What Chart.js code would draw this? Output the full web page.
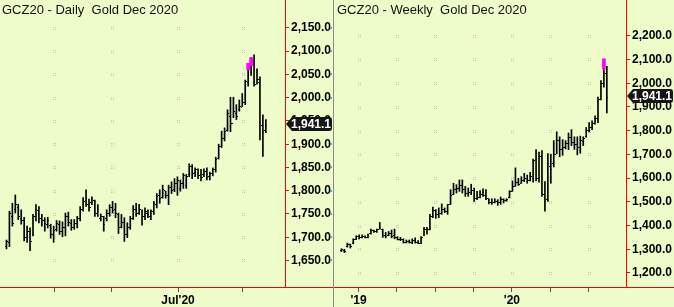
<!DOCTYPE html>
<html lang="en">
<head>
<meta charset="UTF-8" />
<title>GCZ20 Gold Dec 2020</title>
<script src="https://cdn.jsdelivr.net/npm/chart.js"></script>
<style>
  html, body { margin: 0; padding: 0; background: #edfcc8; }
  .wrap { position: relative; width: 674px; height: 307px; overflow: hidden; background: #edfcc8; }
  canvas { position: absolute; top: 0; }
  #dailyChart { left: 0; }
  #weeklyChart { left: 334px; }
  .sep { position: absolute; left: 333px; top: 0; width: 1px; height: 307px; background: #8c8c8c; }
  .title {
    position: absolute; top: 2px; z-index: 2;
    font: 13px 'Liberation Sans', Arial, sans-serif; color: #111;
    white-space: pre;
  }
</style>
</head>
<body>
<div class="wrap">
  <canvas id="dailyChart" width="333" height="307"></canvas>
  <div class="sep"></div>
  <canvas id="weeklyChart" width="340" height="307"></canvas>
  <div class="title" style="left:2px">GCZ20 - Daily  Gold Dec 2020</div>
  <div class="title" style="left:337px">GCZ20 - Weekly  Gold Dec 2020</div>
</div>

<script>
  // daily bars (Apr - Aug 2020)
  const dHigh = [1694,1756,1773,1791,1771,1759,1743,1724,1720,1749,1770,1766,1749,1742,1743,1728,1724,1736,1735,1733,
                 1752,1754,1738,1738,1745,1766,1785,1802,1782,1787,1780,1770,1750,1745,1759,1770,1777,1773,1752,1749,
                 1742,1731,1745,1768,1773,1771,1759,1763,1759,1759,1777,1794,1802,1812,1799,1812,1819,1826,1830,1823,
                 1837,1835,1858,1856,1849,1847,1846,1847,1849,1840,1849,1872,1900,1928,1935,1974,2001,2001,1985,1995,
                 2009,2038,2074,2086,2092,2062,2045,1963,1953];
  const dLow  = [1675,1680,1724,1752,1738,1728,1692,1689,1671,1703,1735,1731,1724,1713,1720,1698,1689,1713,1706,1701,
                 1703,1724,1715,1717,1720,1735,1756,1766,1756,1770,1745,1745,1735,1713,1735,1745,1752,1742,1708,1720,
                 1691,1699,1717,1738,1745,1749,1726,1738,1742,1738,1749,1763,1773,1784,1784,1770,1794,1798,1790,1799,
                 1805,1805,1830,1826,1830,1826,1821,1830,1823,1823,1832,1840,1868,1893,1907,1928,1927,1957,1953,1971,
                 1981,1985,2025,2048,2025,2029,1909,1874,1925];
  const dOpen = [1680,1688,1745,1760,1765,1740,1735,1700,1712,1705,1745,1758,1740,1736,1728,1726,1705,1716,1728,1712,
                 1722,1745,1730,1722,1730,1740,1760,1778,1770,1774,1778,1752,1740,1745,1740,1752,1765,1760,1748,1722,
                 1732,1705,1722,1740,1760,1752,1756,1745,1752,1745,1755,1770,1790,1786,1800,1790,1808,1802,1815,1805,
                 1815,1812,1834,1852,1840,1845,1835,1835,1842,1830,1838,1845,1870,1895,1912,1930,1960,1945,1965,1975,
                 1980,1990,2032,2055,2075,2030,2032,1940,1930];
  const dClose = [1690,1750,1730,1770,1745,1735,1700,1712,1690,1745,1760,1740,1736,1730,1735,1705,1715,1730,1712,1722,
                  1745,1732,1722,1730,1740,1760,1776,1770,1765,1781,1752,1760,1745,1728,1752,1765,1758,1750,1720,1732,
                  1705,1722,1740,1760,1752,1760,1745,1755,1748,1755,1772,1788,1784,1802,1790,1808,1800,1815,1822,1815,
                  1832,1830,1852,1838,1845,1832,1828,1842,1828,1836,1845,1868,1895,1912,1928,1965,1945,1970,1960,1982,
                  1990,2035,2060,2080,2028,2040,1946,1928,1941.1];
  const dFlagIdx = [82, 83];
  const dFlagLow = [2060, 2069];
  const dFlagHigh = [2074, 2086];
  const dTicksY = [1650, 1700, 1750, 1800, 1850, 1900, 1950, 2000, 2050, 2100, 2150];
  const dTicksX = [16.2, 35.8, 58.2, 80.2];
  const dTickLabels = ['', '', "Jul'20", ''];

  // weekly bars (Nov 2018 - Aug 2020)
  const wHigh = [1302,1300,1326,1322,1344,1357,1361,1361,1357,1364,1385,1381,1385,1413,1385,1371,1375,1381,1385,1353,
                 1350,1344,1339,1339,1344,1348,1336,1353,1392,1392,1447,1478,1467,1474,1491,1474,1489,1551,1578,1572,
                 1592,1592,1565,1558,1574,1558,1544,1547,1555,1551,1513,1513,1513,1509,1520,1513,1513,1547,1588,1643,
                 1599,1606,1620,1613,1624,1680,1720,1710,1716,1585,1703,1700,1758,1795,1774,1762,1758,1790,1804,1774,
                 1774,1777,1774,1813,1834,1841,1862,1941,2011,2057,2071];
  const wLow  = [1290,1286,1309,1305,1323,1341,1344,1348,1348,1348,1364,1371,1371,1385,1350,1348,1357,1348,1344,1339,
                 1336,1326,1326,1326,1323,1326,1323,1323,1357,1364,1381,1433,1430,1433,1447,1454,1447,1489,1530,1537,
                 1544,1537,1523,1523,1530,1502,1509,1516,1523,1509,1491,1489,1495,1485,1489,1495,1502,1516,1544,1565,
                 1569,1578,1585,1578,1588,1583,1588,1583,1523,1461,1502,1578,1647,1703,1690,1696,1723,1720,1737,1721,
                 1698,1705,1737,1772,1795,1804,1827,1834,1930,1983,1875];
  const wOpen = [1293,1296,1310,1320,1325,1342,1352,1350,1355,1350,1365,1378,1376,1385,1385,1360,1358,1368,1358,1350,
                 1342,1340,1330,1332,1330,1336,1330,1326,1358,1382,1382,1440,1465,1448,1452,1466,1460,1490,1530,1550,
                 1558,1568,1552,1535,1540,1548,1515,1520,1530,1528,1512,1498,1495,1500,1498,1508,1504,1518,1545,1565,
                 1580,1578,1590,1598,1590,1600,1678,1600,1690,1530,1510,1650,1660,1700,1760,1720,1730,1745,1770,1750,
                 1740,1728,1755,1775,1800,1815,1830,1850,1930,2000,2040];
  const wClose = [1298,1290,1322,1310,1340,1352,1350,1355,1350,1360,1378,1376,1382,1392,1360,1352,1368,1355,1350,1342,
                  1340,1330,1332,1330,1336,1330,1326,1348,1382,1380,1440,1465,1448,1452,1466,1460,1488,1528,1550,1558,
                  1568,1552,1535,1540,1548,1515,1520,1530,1528,1512,1498,1495,1500,1498,1508,1504,1510,1545,1565,1580,
                  1575,1590,1598,1590,1605,1675,1598,1690,1530,1500,1660,1635,1700,1760,1720,1730,1745,1770,1750,1740,
                  1728,1760,1768,1800,1815,1830,1850,1925,2000,2040,1941.1];
  const wFlagIdx = [89];
  const wFlagLow = [2059];
  const wFlagHigh = [2103];
  const wTicksY = [1200, 1300, 1400, 1500, 1600, 1700, 1800, 1900, 2000, 2100, 2200];
  const wTicksX = [5.8, 18.8, 31.8, 44.8, 57.8, 70.8, 83.8];
  const wTickLabels = ["'19", '', '', '', "'20", '', ''];

  const lastPrice = 1941.1;

  const FONT = "'Liberation Sans', Arial, sans-serif";
  const fmt = v => v.toLocaleString('en-US', { minimumFractionDigits: 1, maximumFractionDigits: 1 });

  // little open / close ticks used as point images
  function tickMark(col) {
    const c = document.createElement('canvas');
    c.width = 3; c.height = 1;
    const g = c.getContext('2d');
    g.fillStyle = '#000';
    g.fillRect(col, 0, 1, 1);
    return c;
  }

  const panelDeco = {
    id: 'panelDeco',
    beforeDatasetsDraw(chart) {
      const { ctx, scales: { x, y } } = chart;
      ctx.save();
      ctx.fillStyle = '#bfc6b0';
      x.ticks.forEach(tx => {
        const px = Math.round(x.getPixelForValue(tx.value));
        y.ticks.forEach(ty => {
          const py = Math.round(y.getPixelForValue(ty.value));
          ctx.fillRect(px - 1, py - 1, 1, 1);
          ctx.fillRect(px + 1, py - 1, 1, 1);
          ctx.fillRect(px - 1, py + 1, 1, 1);
          ctx.fillRect(px + 1, py + 1, 1, 1);
        });
      });
      ctx.restore();
    },
    afterDraw(chart, args, opts) {
      const { ctx, chartArea, scales: { y } } = chart;
      const bottom = Math.round(chartArea.bottom);
      const right = Math.round(chartArea.right);
      ctx.save();
      // red frame: price axis and a base line that runs under the labels too
      ctx.fillStyle = '#ff0000';
      ctx.fillRect(0, bottom, chart.width, 1);
      ctx.fillRect(right, 0, 1, bottom);

      // small blue stubs on the outer edge of the daily panel
      if (opts.edgeStubs) {
        ctx.fillStyle = '#3aaee0';
        y.ticks.forEach(t => {
          const py = Math.round(y.getPixelForValue(t.value));
          ctx.fillRect(chart.width - 3, py - 1, 2, 2);
        });
      }

      // last price tag
      const py = Math.round(y.getPixelForValue(lastPrice)) - 1;
      const x0 = right + 1;
      const x1 = chart.width - 1;
      ctx.fillStyle = '#151515';
      ctx.beginPath();
      ctx.moveTo(x0, py);
      ctx.lineTo(x0 + 6, py - 7);
      ctx.lineTo(x1 - 3, py - 7);
      ctx.quadraticCurveTo(x1, py - 7, x1, py - 4);
      ctx.lineTo(x1, py + 4);
      ctx.quadraticCurveTo(x1, py + 7, x1 - 3, py + 7);
      ctx.lineTo(x0 + 6, py + 7);
      ctx.closePath();
      ctx.fill();
      ctx.fillStyle = '#fff';
      ctx.font = 'bold 12px ' + FONT;
      ctx.textBaseline = 'middle';
      ctx.fillText(fmt(lastPrice), x0 + 5, py + 1);
      ctx.restore();
    }
  };

  function ohlcChart(id, o) {
    const bars = o.high.map((h, i) => ({ x: i, y: [o.low[i], h] }));
    const opens = o.open.map((v, i) => ({ x: i, y: v }));
    const closes = o.close.map((v, i) => ({ x: i, y: v }));
    const flags = o.flagIdx.map((x, j) => ({ x: x, y: [o.flagLow[j], o.flagHigh[j]] }));

    return new Chart(document.getElementById(id), {
      type: 'bar',
      data: {
        datasets: [
          { data: flags, backgroundColor: '#ff00ff', barThickness: 3, grouped: false, order: 0 },
          { type: 'line', data: opens, showLine: false, pointStyle: tickMark(0), pointRadius: 2, order: 1 },
          { type: 'line', data: closes, showLine: false, pointStyle: tickMark(2), pointRadius: 2, order: 1 },
          { data: bars, backgroundColor: '#000', barThickness: 1, grouped: false, order: 2 }
        ]
      },
      options: {
        responsive: false,
        animation: false,
        events: [],
        layout: { padding: 0 },
        plugins: {
          legend: { display: false },
          tooltip: { enabled: false },
          panelDeco: { edgeStubs: o.edgeStubs }
        },
        scales: {
          x: {
            type: 'linear',
            min: o.xMin, max: o.xMax,
            offset: false,
            grid: { drawOnChartArea: false, offset: false, tickLength: 5, color: '#555' },
            border: { color: '#ff0000', width: 1 },
            ticks: {
              autoSkip: false, maxRotation: 0, padding: 1, color: '#000',
              font: { family: FONT, size: 12, weight: 'bold' },
              callback: (v, i) => o.xLabels[i] || ''
            },
            afterBuildTicks: s => { s.ticks = o.xTicks.map(v => ({ value: v })); },
            afterFit: s => { s.height = 20; s.paddingLeft = 0; s.paddingRight = 0; }
          },
          y: {
            type: 'linear',
            position: 'right',
            min: o.yMin, max: o.yMax,
            grid: { drawOnChartArea: false, tickLength: 4, color: '#ff0000' },
            border: { color: '#ff0000', width: 1 },
            ticks: {
              padding: 2, color: '#000',
              font: { family: FONT, size: 12, weight: 'bold' },
              callback: v => fmt(v)
            },
            afterBuildTicks: s => { s.ticks = o.yTicks.map(v => ({ value: v })); },
            afterFit: s => { s.width = 48; s.paddingTop = 0; s.paddingBottom = 0; }
          }
        }
      },
      plugins: [panelDeco]
    });
  }

  ohlcChart('dailyChart', {
    high: dHigh, low: dLow, open: dOpen, close: dClose,
    flagIdx: dFlagIdx, flagLow: dFlagLow, flagHigh: dFlagHigh,
    xMin: -0.5, xMax: 94.5, xTicks: dTicksX, xLabels: dTickLabels,
    yMin: 1593, yMax: 2199.3, yTicks: dTicksY, edgeStubs: true
  });

  ohlcChart('weeklyChart', {
    high: wHigh, low: wLow, open: wOpen, close: wClose,
    flagIdx: wFlagIdx, flagLow: wFlagLow, flagHigh: wFlagHigh,
    xMin: -0.8333, xMax: 96.5, xTicks: wTicksX, xLabels: wTickLabels,
    yMin: 1140.8, yMax: 2329.7, yTicks: wTicksY, edgeStubs: false
  });
</script>
</body>
</html>
